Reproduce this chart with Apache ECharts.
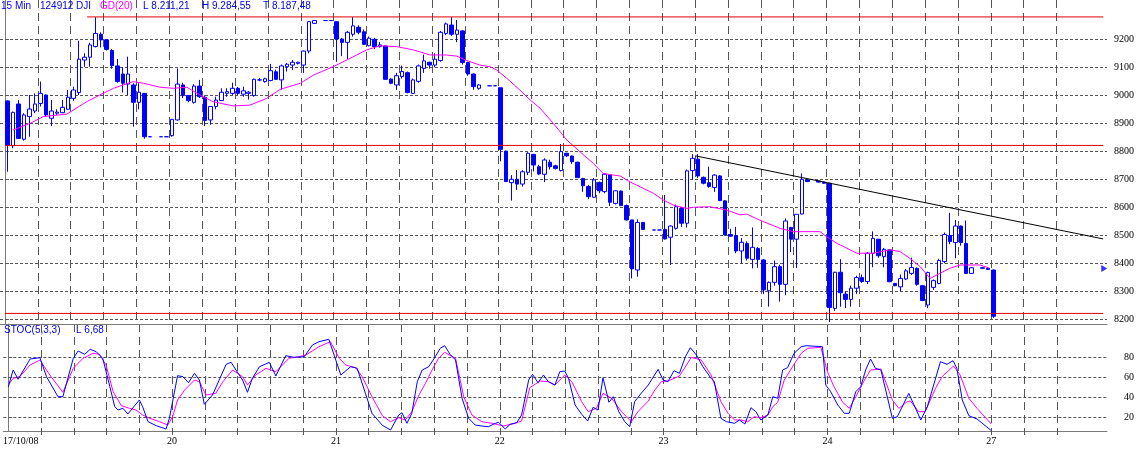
<!DOCTYPE html>
<html><head><meta charset="utf-8">
<script src="https://cdn.jsdelivr.net/npm/echarts@6/dist/echarts.min.js"></script>
<style>html,body{margin:0;padding:0;background:#fff}#c{width:1138px;height:449px}</style>
</head><body><div id="c"></div>
<script>
// bar index (15-min bars, 30 per day), open, close, low, high
const bars = [
[0,8980,8822,8727,8982],[1,8820,8939,8811,8942],[2,8969,8846,8844,8983],[3,8843,8930,8838,8936],
[4,8924,8951,8852,9001],[5,8944,8969,8936,9007],[6,8971,9007,8960,9049],[7,9001,8930,8924,9003],
[8,8918,8944,8890,8983],[9,8936,8940,8930,8950],[10,8938,8957,8936,8983],[11,8950,8993,8948,9019],
[12,8989,9019,8980,9031],[13,9010,9129,9001,9195],[14,9126,9136,9102,9150],[15,9136,9180,9102,9188],
[16,9174,9221,9171,9279],[17,9218,9198,9171,9225],[18,9198,9164,9160,9200],[19,9160,9106,9095,9165],
[20,9105,9049,9045,9130],[21,9076,9043,9010,9100],[22,9040,9076,9001,9138],[23,9037,8975,8888,9043],
[24,8975,9011,8950,9043],[25,9007,8852,8845,9007],[26,8852,8852,8852,8852],[28,8852,8852,8852,8852],
[29,8852,8852,8852,8852],
[30,8856,8914,8852,8914],[31,8912,9040,8910,9096],[32,9037,8999,8990,9045],[33,8999,8981,8975,9000],
[34,8975,9033,8970,9040],[35,9033,8995,8990,9055],[36,8993,8910,8890,9000],[37,8912,8960,8895,8960],
[38,8960,8983,8950,8995],[39,8981,9011,8980,9025],[40,9007,9013,8995,9025],[41,9007,9025,9001,9045],
[42,9025,9007,9001,9030],[43,9004,9016,8995,9031],[44,9007,9011,8985,9015],[45,8999,9057,8995,9060],
[46,9055,9055,9050,9062],[47,9049,9059,9045,9063],[48,9053,9088,9050,9112],[49,9084,9057,9055,9092],
[50,9055,9105,9020,9110],[51,9102,9111,9085,9115],[52,9108,9118,9090,9126],[53,9114,9118,9110,9120],
[54,9108,9158,9080,9160],[55,9158,9263,9150,9265],[56,9257,9267,9255,9269],[58,9267,9267,9267,9267],
[59,9267,9267,9267,9267],
[60,9263,9201,9120,9265],[61,9201,9189,9140,9205],[62,9189,9225,9130,9230],[63,9218,9248,9210,9279],
[64,9243,9225,9218,9250],[65,9227,9182,9180,9235],[66,9177,9204,9175,9210],[67,9200,9174,9165,9205],
[68,9174,9180,9170,9190],[69,9176,9057,9055,9178],[70,9058,9043,9040,9060],[71,9037,9070,9019,9080],
[72,9067,9085,9060,9106],[73,9081,9010,9007,9085],[74,9007,9055,9005,9060],[75,9050,9105,9045,9110],
[76,9096,9123,9080,9145],[77,9118,9108,9095,9120],[78,9108,9129,9100,9150],[79,9124,9225,9120,9230],
[80,9221,9255,9215,9260],[81,9251,9218,9212,9279],[82,9218,9233,9190,9269],[83,9230,9117,9110,9233],
[84,9117,9076,9070,9120],[85,9076,9031,9020,9078],[86,9025,9037,9020,9040],[88,9034,9034,9034,9034],
[89,9034,9034,9034,9034],
[90,9027,8807,8764,9027],[91,8801,8692,8690,8801],[92,8688,8700,8624,8715],[93,8700,8683,8662,8733],
[94,8683,8727,8674,8733],[95,8725,8793,8715,8797],[96,8789,8751,8728,8791],[97,8745,8719,8715,8752],
[98,8718,8769,8690,8775],[99,8761,8745,8735,8770],[100,8748,8739,8735,8752],[101,8731,8799,8728,8826],
[102,8793,8784,8780,8795],[103,8783,8763,8755,8785],[104,8761,8706,8705,8763],[105,8703,8677,8655,8705],
[106,8674,8638,8629,8680],[107,8636,8698,8634,8705],[108,8689,8659,8650,8692],[109,8656,8718,8650,8722],
[110,8715,8618,8605,8717],[111,8614,8659,8610,8660],[112,8658,8606,8604,8660],[113,8606,8555,8553,8610],
[114,8555,8380,8346,8555],[115,8376,8546,8352,8557],[116,8546,8521,8520,8547],[118,8519,8519,8519,8519],
[119,8519,8519,8519,8519],
[120,8521,8487,8485,8644],[121,8493,8533,8394,8535],[122,8525,8602,8520,8610],[123,8596,8543,8530,8600],
[124,8543,8730,8528,8735],[125,8731,8775,8700,8790],[126,8772,8712,8705,8790],[127,8707,8686,8682,8710],
[128,8688,8674,8670,8745],[129,8671,8715,8655,8718],[130,8712,8624,8622,8715],[131,8623,8501,8500,8625],
[132,8503,8497,8495,8523],[133,8499,8444,8436,8530],[134,8444,8475,8400,8490],[135,8471,8418,8410,8478],
[136,8414,8457,8382,8528],[137,8453,8414,8384,8458],[138,8412,8305,8290,8415],[139,8302,8332,8245,8335],
[140,8332,8388,8320,8410],[141,8388,8325,8263,8395],[142,8325,8551,8286,8560],[143,8528,8486,8440,8530],
[144,8486,8575,8383,8575],[145,8576,8700,8575,8721],[146,8698,8692,8690,8700],[148,8694,8690,8688,8696],
[149,8690,8686,8684,8692],
[150,8686,8242,8190,8686],[151,8239,8368,8230,8370],[152,8368,8295,8245,8415],[153,8290,8271,8240,8300],
[154,8271,8311,8245,8320],[155,8311,8349,8290,8356],[156,8349,8335,8330,8360],[157,8335,8436,8326,8440],
[158,8436,8489,8386,8514],[159,8486,8427,8420,8487],[160,8424,8450,8386,8455],[161,8448,8334,8333,8450],
[162,8328,8320,8318,8330],[163,8316,8346,8300,8360],[164,8344,8373,8340,8380],[165,8364,8385,8358,8420],
[166,8382,8325,8320,8385],[167,8320,8267,8265,8323],[168,8251,8367,8240,8370],[169,8314,8338,8305,8342],
[170,8328,8410,8325,8416],[171,8406,8503,8400,8510],[172,8499,8478,8468,8580],[173,8474,8533,8418,8555],
[174,8533,8474,8463,8535],[175,8471,8364,8362,8553],[176,8364,8384,8362,8386],[178,8384,8382,8380,8386],
[179,8382,8378,8376,8384],
[180,8376,8211,8205,8378]
];
// GD(20) moving average: [bar position, price]
const maLine = [[1.5,8876],[4.6,8900],[7.0,8924],[11.3,8933],[14.9,8977],[17.3,9001],[19.8,9025],[23.4,9049],
[25.3,9043],[28.3,9029],[30.7,9025],[33.2,9029],[35.6,9001],[38.0,8977],[41.7,8962],[44.7,8965],[47.8,8989],
[50.2,9021],[53.9,9043],[56.3,9072],[59.9,9102],[63,9132],[66,9162],[68.5,9177],[71.5,9174],[74.6,9162],
[77.6,9144],[80.6,9144],[82.5,9140],[84.3,9124],[86.7,9108],[88.6,9102],[89.8,9090],[91.6,9061],[94,9019],
[95.9,8983],[97.7,8954],[100.1,8900],[102.6,8840],[105,8798],[107.4,8757],[109.2,8721],[111.1,8715],
[112.3,8712],[114.1,8691],[116.5,8668],[118.4,8650],[120.2,8626],[122,8608],[124.5,8596],[125.7,8600],
[128.7,8602],[131.8,8590],[134.2,8573],[135.4,8576],[137.8,8554],[141.5,8525],[143.9,8513],[148.8,8513],
[150,8495],[151.9,8471],[153.7,8454],[155.5,8436],[158.5,8436],[161.6,8448],[163.4,8442],[165.2,8418],
[167.1,8388],[168.9,8346],[170.7,8364],[172.5,8382],[174.4,8394],[178,8394],[179.6,8384]];
// STOC(5,3,3) %K (blue) and %D (magenta)
const stocK = [[0,50.6],[0.9,67.3],[1.8,58],[4.0,78.3],[5.8,79.6],[7.0,60.6],[9.1,40.6],[10.0,40.6],[11.9,79],
[12.8,86.3],[14.0,83],[15.0,88],[16.1,85.6],[17.3,79],[18.6,50.6],[19.5,30.6],[20.1,27.3],[21.0,29],[21.9,23.3],
[24.0,37.3],[24.6,30.6],[25.6,15.6],[27.1,11.6],[28.9,8.3],[29.5,19],[31.0,61.6],[32.0,60.6],[33.0,54.6],
[34.1,64],[35.0,57.3],[35.9,33],[37.4,42.3],[39.9,73],[40.8,75],[41.7,67.3],[42.9,57.3],[43.8,45],[44.7,59],
[46.0,70.6],[47.8,75],[49.0,61.3],[50.8,81.6],[52.3,80],[54.2,80.6],[55.7,92.3],[56.9,95.6],[58.7,98],
[60.9,62.3],[62.7,70.6],[63.9,69],[65.4,44],[66.6,24],[68.5,12],[70.0,7.3],[71.5,22.3],[72.1,24.6],[73.0,14],
[73.9,24],[74.9,55.6],[75.8,67.3],[77.0,70.6],[78.2,80.6],[79.1,89],[79.9,91.6],[80.9,83],[81.9,77.3],
[83.1,39],[84.3,19],[85.5,12.3],[86.7,11.3],[87.9,10.6],[89.2,14],[89.8,15],[91.0,8.3],[91.9,13],[93.1,14.6],
[94.0,22.3],[95.3,57.3],[96.0,63],[97.0,54.6],[98.0,62.3],[98.9,55.6],[100.1,52.3],[101.0,65.6],[101.9,66.3],
[102.6,59],[103.8,32.3],[105.0,23],[106.1,16.3],[107.1,30],[108.0,27.3],[108.9,59.6],[110.0,35],[110.8,40.6],
[111.8,25.6],[112.9,15.6],[113.8,10.6],[114.7,35.6],[115.9,44],[117.2,52.3],[119.0,68],[119.9,57.3],
[120.8,55.6],[121.9,66.6],[122.9,64],[124.0,80.6],[124.9,89.6],[126.0,82.3],[127.2,70.6],[128.7,59],
[129.3,55.6],[130.5,19],[131.5,15.6],[133.0,14],[133.9,17.3],[134.9,13.3],[136.0,29.6],[136.9,25.6],
[137.8,17.3],[139.1,22.3],[140.0,40.6],[140.9,39],[141.8,67.3],[142.7,69.6],[143.9,84],[145.2,90.6],
[146.1,91.6],[149.1,90.6],[149.7,52.3],[150.6,45.6],[151.9,32.3],[153.1,24],[154.0,24],[155.2,45.6],
[156.1,50.6],[157.0,67.3],[157.9,78.3],[158.8,69],[159.8,67.3],[161.9,19],[162.8,20.6],[164.9,44],
[167.1,17.3],[168.3,30.6],[170.7,75.6],[171.9,73],[173.0,76.6],[173.7,69],[174.7,37.3],[175.9,21.6],
[177.4,18.3],[180.0,6.7]];
const stocD = [[0,52.3],[0.9,59],[2.1,60.6],[4.0,72.3],[5.8,77.3],[7.6,62.3],[10.0,45],[11.9,69],[13.7,79],
[15.5,84],[16.7,83],[17.9,72.3],[19.2,45.6],[20.7,31.6],[22.2,29],[23.4,27.3],[24.6,22.3],[25.9,19],[27.7,15.6],
[29.2,12.3],[30.1,20.6],[31.0,37.3],[32.3,47.3],[34.1,57.3],[35.0,55.6],[36.2,42.3],[38.0,44],[39.3,55.6],
[41.1,67.3],[42.9,60.6],[43.8,52.3],[45.3,62.3],[47.2,69],[49.0,65.6],[51.4,79],[53.3,80.6],[54.5,82.3],
[56.9,90.6],[59.0,95.6],[60.6,79],[61.8,72.3],[63.6,69.6],[64.8,60.6],[66.6,40.6],[68.5,21.6],[70.0,15.6],
[71.5,19.6],[72.7,17.3],[73.9,25.6],[75.2,42.3],[76.4,54],[77.6,67.3],[78.8,79],[79.9,85],[81.9,79],[83.4,40.6],
[84.9,22.3],[86.7,15.6],[88.6,14],[90.7,11.3],[92.8,14],[94.0,16.3],[95.5,49.6],[97.4,56.3],[98.9,55.6],
[100.1,52.3],[101.9,62.3],[103.2,55.6],[105.0,35.6],[106.2,25.6],[107.7,29],[108.9,44],[110.5,39],[112.3,25.6],
[114.1,15.6],[115.3,25.6],[117.2,36.3],[118.4,47.3],[119.6,55.6],[120.8,56.3],[122.9,61.3],[125.1,80],
[126.9,77.3],[128.7,62.3],[130.5,35.6],[131.8,24],[133.0,17.3],[134.2,17.3],[135.4,15.6],[136.6,20.6],
[137.8,19.5],[139.1,22.3],[140.0,30.6],[140.9,35],[142.1,57.3],[143.9,73],[145.2,84],[146.4,89],[148.8,90],
[150.0,65.6],[151.2,50.6],[152.8,35],[154.0,29],[155.2,40.6],[156.7,56.3],[157.9,67.3],[159.8,68.3],
[161.9,37.3],[163.1,29],[164.6,35.6],[165.2,36.3],[166.7,25.6],[167.9,25.6],[169.8,49],[171.0,60.6],
[173.1,71.3],[174.3,62.3],[175.9,39],[177.4,29],[180.0,13.3]];
const redLines = [[[15,9280],[200.5,9280]],[[0,8821],[200.5,8821]],[[0,8221],[200.5,8221]]];
const trendLine = [[126.0,8784],[200.5,8487]];
const lastMarker = [[200.7,8381]];
const priceTicks = [8200,8300,8400,8500,8600,8700,8800,8900,9000,9100,9200];
const stocTicks = [20,40,60,80];
const dayStarts = [0,30,60,90,120,150,180];
const dayLabels = ['17/10/08','20','21','22','23','24','27'];
const gridV = [];
for (let v = 6; v <= 192; v += 6) gridV.push(v);

const chart = echarts.init(document.getElementById('c'), null, {renderer:'canvas'});
const gridColor = '#555555';
const borderColor = '#7a7a7a';
const serif = 'Liberation Serif';
const xBase = {type:'value', min:-0.913, max:201.2};
const series = [];
series.push({type:'candlestick', xAxisIndex:0, yAxisIndex:0, barWidth:4,
  data: bars.map(b => [b[0]+0.5, b[1], b[2], b[3], b[4]]),
  encode:{x:0, y:[1,2,3,4]},
  itemStyle:{color:'#ffffff', color0:'#0000ff', borderColor:'#0000ff', borderColor0:'#0000ff', borderWidth:1},
  z:3});
series.push({type:'line', xAxisIndex:0, yAxisIndex:0, data:maLine, symbol:'none',
  lineStyle:{color:'#ff00ff', width:1}, z:4});
redLines.forEach(l => series.push({type:'line', xAxisIndex:0, yAxisIndex:0, data:l, symbol:'none',
  lineStyle:{color:'#e00000', width:1}, z:5}));
series.push({type:'line', xAxisIndex:0, yAxisIndex:0, data:trendLine, symbol:'none',
  lineStyle:{color:'#000000', width:1}, z:5});
series.push({type:'scatter', xAxisIndex:0, yAxisIndex:0, data:lastMarker, symbol:'triangle',
  symbolSize:[7,6], symbolRotate:-90, itemStyle:{color:'#0000ff'}, z:6});
series.push({type:'line', xAxisIndex:1, yAxisIndex:1, data:stocD, symbol:'none',
  lineStyle:{color:'#ff00ff', width:1}, z:3});
series.push({type:'line', xAxisIndex:1, yAxisIndex:1, data:stocK, symbol:'none',
  lineStyle:{color:'#0000ff', width:1}, z:4});

const headFont = '10px "Liberation Sans"';
const head = [['15 Min',1,'#0000e0'],['124912',40,'#0000e0'],['DJI',76,'#0000e0'],['GD(20)',100,'#ff00ff'],
  ['L 8.211,21',143,'#0000e0'],['H 9.284,55',202,'#0000e0'],['T 8.187,48',263,'#0000e0']];
const graphic = head.map(h => ({type:'text', x:h[1], y:6, z:50,
  style:{text:h[0], fill:h[2], font:headFont, textVerticalAlign:'middle'}}));
graphic.push({type:'text', x:4, y:330, z:50, style:{text:'STOC(5,3,3)', fill:'#0000e0', font:headFont, textVerticalAlign:'middle'}});
graphic.push({type:'text', x:76, y:330, z:50, style:{text:'L 6,68', fill:'#0000e0', font:headFont, textVerticalAlign:'middle'}});

const plain = (v) => String(Math.round(v));

chart.setOption({
  animation:false,
  backgroundColor:'#ffffff',
  grid:[{left:0, right:31, top:0, height:324, containLabel:false},
        {left:0, right:31, top:324, height:107, containLabel:false}],
  xAxis:[
    Object.assign({}, xBase, {gridIndex:0,
      axisLine:{show:true, lineStyle:{color:borderColor, width:1}},
      axisTick:{show:false, customValues:gridV},
      axisLabel:{show:false},
      splitLine:{show:true, lineStyle:{color:gridColor, width:1, type:[8,5]}}}),
    Object.assign({}, xBase, {gridIndex:1,
      axisLine:{show:true, lineStyle:{color:borderColor, width:1}},
      axisTick:{show:true, customValues:gridV, length:4, inside:false, lineStyle:{color:gridColor}},
      axisLabel:{show:true, customValues:dayStarts, margin:5, color:'#000', fontFamily:serif, fontSize:10,
        formatter:(v) => { const i = dayStarts.indexOf(Math.round(v)); if (i === 0) return '{a|' + dayLabels[0] + '}'; return i >= 0 ? dayLabels[i] : ''; },
        rich:{a:{padding:[0,0,0,25], color:'#000', fontFamily:serif, fontSize:10}}},
      splitLine:{show:true, lineStyle:{color:gridColor, width:1, type:[8,5]}}})
  ],
  yAxis:[
    {type:'value', gridIndex:0, position:'right', min:8183.2, max:9340.4,
      axisLine:{show:true, lineStyle:{color:borderColor, width:1}},
      axisTick:{show:true, customValues:priceTicks, length:4, inside:false, lineStyle:{color:gridColor}},
      axisLabel:{show:true, customValues:priceTicks, formatter:plain, align:'right', margin:27, color:'#000', fontFamily:serif, fontSize:10},
      splitLine:{show:true, lineStyle:{color:gridColor, width:1, type:[3,2]}}},
    {type:'value', gridIndex:1, position:'right', min:6.3, max:113.3,
      axisLine:{show:true, lineStyle:{color:borderColor, width:1}},
      axisTick:{show:true, customValues:stocTicks, length:4, inside:false, lineStyle:{color:gridColor}},
      axisLabel:{show:true, customValues:stocTicks, formatter:plain, align:'right', margin:27, color:'#000', fontFamily:serif, fontSize:10},
      splitLine:{show:true, lineStyle:{color:gridColor, width:1, type:[3,2]}}}
  ],
  series: series,
  graphic: graphic
});
</script>
</body></html>
